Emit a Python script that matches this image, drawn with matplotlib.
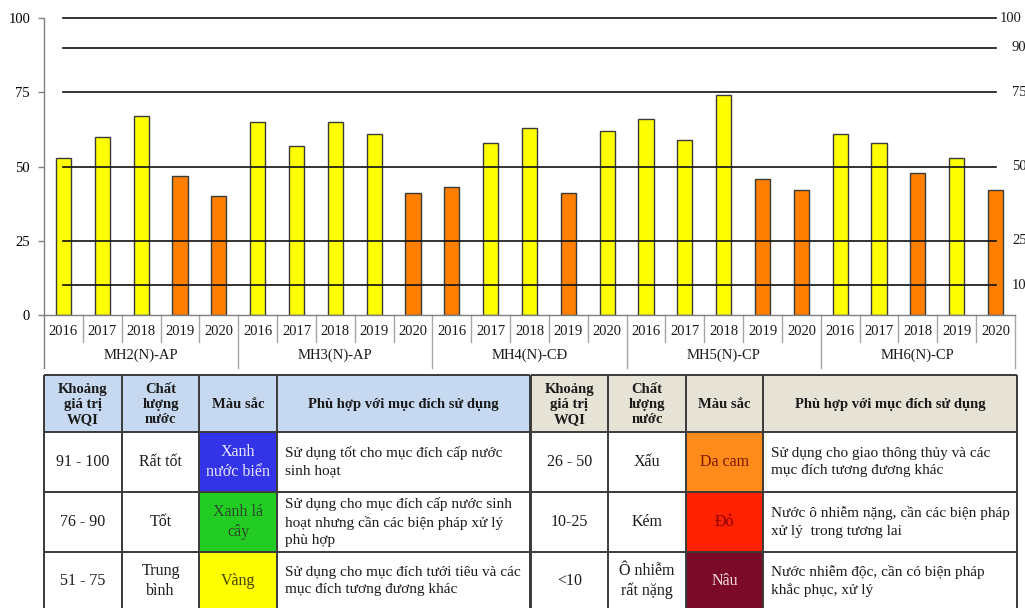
import matplotlib
matplotlib.use('Agg')
import matplotlib.pyplot as plt
from matplotlib.patches import Rectangle
import matplotlib.transforms as mtrans

# ---------------- data ----------------
stations = ['MH2(N)-AP', 'MH3(N)-AP', 'MH4(N)-CĐ', 'MH5(N)-CP', 'MH6(N)-CP']
years = ['2016', '2017', '2018', '2019', '2020']
wqi_mh2 = [53, 60, 67, 47, 40]
wqi_mh3 = [65, 57, 65, 61, 41]
wqi_mh4 = [43, 58, 63, 41, 62]
wqi_mh5 = [66, 59, 74, 46, 42]
wqi_mh6 = [61, 58, 48, 53, 42]
thresholds = [100, 90, 75, 50, 25, 10]
left_ticks = [0, 25, 50, 75, 100]

hdr = ['Khoảng\ngiá trị\nWQI', 'Chất\nlượng\nnước', 'Màu sắc', 'Phù hợp với mục đích sử dụng']
left_ranges = ['91 - 100', '76 - 90', '51 - 75']
left_quality = ['Rất tốt', 'Tốt', 'Trung\nbình']
left_colnames = ['Xanh\nnước biển', 'Xanh lá\ncây', 'Vàng']
left_desc = ['Sử dụng tốt cho mục đích cấp nước\nsinh hoạt',
             'Sử dụng cho mục đích cấp nước sinh\nhoạt nhưng cần các biện pháp xử lý\nphù hợp',
             'Sử dụng cho mục đích tưới tiêu và các\nmục đích tương đương khác']
right_ranges = ['26 - 50', '10-25', '<10']
right_quality = ['Xấu', 'Kém', 'Ô nhiễm\nrất nặng']
right_colnames = ['Da cam', 'Đỏ', 'Nâu']
right_desc = ['Sử dụng cho giao thông thủy và các\nmục đích tương đương khác',
              'Nước ô nhiễm nặng, cần các biện pháp\nxử lý  trong tương lai',
              'Nước nhiễm độc, cần có biện pháp\nkhắc phục, xử lý']

# ---------------- style ----------------
SERIF = ['Liberation Serif', 'DejaVu Serif']
plt.rcParams['font.family'] = SERIF
YELLOW = '#FFFF00'
ORANGE = '#FF7F00'
left_cell_colors = ['#3333E8', '#22CC22', '#FFFF00']
left_cell_txt = ['#E8E8FF', '#2A4A2A', '#404000']
right_cell_colors = ['#FF8C1A', '#FF2200', '#7A0A28']
right_cell_txt = ['#7A1500', '#8B0000', '#F2DADA']

W, H = 1025, 608
fig = plt.figure(figsize=(W / 100, H / 100), dpi=100)
fig.patch.set_facecolor('white')

# ---------------- table (pixel coordinates) ----------------
axt = fig.add_axes([0, 0, 1, 1])
axt.set_xlim(0, W)
axt.set_ylim(H, 0)
axt.axis('off')

rows_y = [375, 432, 492, 552, 614]
line_c = '#3A3A3A'


def draw_table(cols, hdr_color, ranges, quality, colnames, desc, cell_colors, cell_txt):
    # header
    for j in range(4):
        axt.add_patch(Rectangle((cols[j], rows_y[0]), cols[j + 1] - cols[j], rows_y[1] - rows_y[0],
                                facecolor=hdr_color, edgecolor='none', zorder=1))
        cx = (cols[j] + cols[j + 1]) / 2
        axt.text(cx, (rows_y[0] + rows_y[1]) / 2 + 1, hdr[j], ha='center', va='center',
                 fontsize=10.5, fontweight='bold', linespacing=1.22, color='#1a1a1a', zorder=3)
    for i in range(3):
        y0, y1 = rows_y[i + 1], rows_y[i + 2]
        ym = (y0 + y1) / 2 if i < 2 else (y0 + 608) / 2 + 1
        axt.add_patch(Rectangle((cols[2], y0), cols[3] - cols[2], y1 - y0,
                                facecolor=cell_colors[i], edgecolor='none', zorder=1))
        axt.text((cols[0] + cols[1]) / 2, ym, ranges[i], ha='center', va='center',
                 fontsize=11.5, color='#1a1a1a', zorder=3)
        axt.text((cols[1] + cols[2]) / 2, ym, quality[i], ha='center', va='center',
                 fontsize=11.5, color='#1a1a1a', linespacing=1.3, zorder=3)
        axt.text((cols[2] + cols[3]) / 2, ym, colnames[i], ha='center', va='center',
                 fontsize=11.5, color=cell_txt[i], linespacing=1.35, zorder=3)
        axt.text(cols[3] + 8, ym, desc[i], ha='left', va='center',
                 fontsize=11, color='#1a1a1a', linespacing=1.45, zorder=3)
    # grid lines
    for y in rows_y:
        axt.plot([cols[0], cols[-1]], [y, y], color=line_c, lw=1.4, zorder=4, solid_capstyle='butt')
    for x in cols:
        axt.plot([x, x], [rows_y[0], rows_y[-1]], color=line_c, lw=1.4, zorder=4, solid_capstyle='butt')


draw_table([44, 122, 199, 277, 530], '#C6D9F1', left_ranges, left_quality, left_colnames,
           left_desc, left_cell_colors, left_cell_txt)
draw_table([531, 608, 686, 763, 1017], '#E6E2D6', right_ranges, right_quality, right_colnames,
           right_desc, right_cell_colors, right_cell_txt)

# ---------------- chart ----------------
x_left, x_right = 44, 1015
y_zero, y_hundred = 315, 18.3
ax = fig.add_axes([x_left / W, (H - y_zero) / H, (x_right - x_left) / W, (y_zero - y_hundred) / H])
ax.patch.set_alpha(0)

values = wqi_mh2 + wqi_mh3 + wqi_mh4 + wqi_mh5 + wqi_mh6
n = len(values)
xs = list(range(n))
colors = [YELLOW if v > 50 else ORANGE for v in values]
ax.bar(xs, values, width=0.39, color=colors, edgecolor='#3a3a3a', linewidth=1.0, zorder=2)

for t in thresholds:
    ax.plot([xs[0], xs[-1]], [t, t], color='#111111', lw=1.2, zorder=3, clip_on=False)

ax.set_xlim(-0.5, n - 0.5)
ax.set_ylim(0, 100)
ax.set_yticks(left_ticks)
ax.set_yticklabels([str(t) for t in left_ticks], fontsize=10.5)
ax.tick_params(axis='y', direction='out', length=4, width=1, color='#808080', pad=6)
ax.set_xticks([])
for s in ['top', 'right']:
    ax.spines[s].set_visible(False)
ax.spines['bottom'].set_color('#7f7f7f')
ax.spines['left'].set_color('#7f7f7f')
ax.spines['left'].set_linewidth(1.0)
ax.spines['bottom'].set_linewidth(1.0)

ph = y_zero - y_hundred
f_year_bot = -(342 - y_zero) / ph
f_grp_bot = -(368 - y_zero) / ph
trans = mtrans.blended_transform_factory(ax.transData, ax.transAxes)

# extend left axis through category box
ax.plot([-0.5, -0.5], [0, f_grp_bot], transform=trans, color='#7f7f7f', lw=1.0, clip_on=False)

for i in range(n):
    ax.text(xs[i], -(331.5 - y_zero) / ph, years[i % 5], transform=trans, ha='center', va='center',
            fontsize=10.5, color='#1a1a1a')
    if i > 0:
        bottom = f_grp_bot if i % 5 == 0 else f_year_bot
        ax.plot([i - 0.5, i - 0.5], [0, bottom], transform=trans, color='#a6a6a6', lw=1.0, clip_on=False)
ax.plot([n - 0.5, n - 0.5], [0, f_grp_bot], transform=trans, color='#a6a6a6', lw=1.0, clip_on=False)

for g, name in enumerate(stations):
    ax.text(g * 5 + 2, -(355.5 - y_zero) / ph, name, transform=trans, ha='center', va='center',
            fontsize=10.5, color='#1a1a1a')

# right-hand labels of the threshold lines
trans_r = mtrans.blended_transform_factory(ax.transAxes, ax.transData)
for t in thresholds:
    xpix = 1000 if t == 100 else 1012
    ax.text((xpix - x_left) / (x_right - x_left), t, str(t), transform=trans_r, ha='left', va='center',
            fontsize=10.5, color='#1a1a1a', clip_on=False)

fig.savefig('out.png', dpi=100)
